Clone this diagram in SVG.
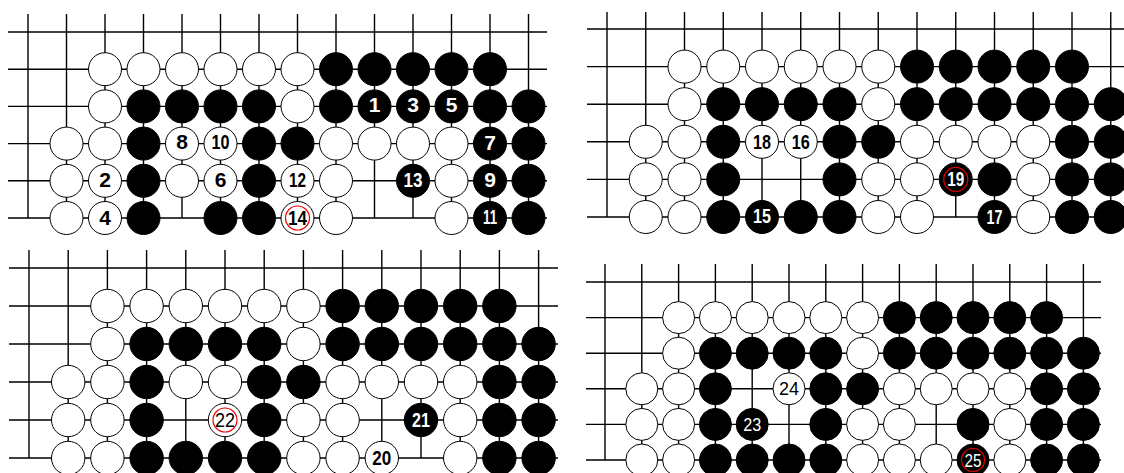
<svg xmlns="http://www.w3.org/2000/svg" width="1124" height="473" viewBox="0 0 1124 473">
<style>
.grid{fill:none;stroke:#000;stroke-width:1.4}
.w{fill:#fff;stroke:#000;stroke-width:1}
.b{fill:#000;stroke:#000;stroke-width:1}
.mk{fill:none;stroke:#e00;stroke-width:1.2}
text{font-family:"Liberation Sans",Arial,sans-serif;font-weight:bold;text-anchor:middle}
.tw{fill:#000}
.tb{fill:#fff}
.s1{font-size:21px}
.s2{font-size:20px}
.s3{font-size:18.5px}
.n{font-weight:normal}
</style>
<rect width="1124" height="473" fill="#fff"/>

<g id="panel1">
<g id="grid1"><path class="grid" d="M8 32H547M8 69.2H547M8 106.4H547M8 143.6H547M8 180.8H547M8 218H547M28 14V218M66.5 14V218M105 14V218M143.5 14V218M182 14V218M220.5 14V218M259 14V218M297.5 14V218M336 14V218M374.5 14V218M413 14V218M451.5 14V218M490 14V218M528.5 14V218"/></g>
<g id="stones1">
<circle class="w" cx="105" cy="69.2" r="16.5"/><circle class="w" cx="143.5" cy="69.2" r="16.5"/><circle class="w" cx="182" cy="69.2" r="16.5"/><circle class="w" cx="220.5" cy="69.2" r="16.5"/><circle class="w" cx="259" cy="69.2" r="16.5"/><circle class="w" cx="297.5" cy="69.2" r="16.5"/>
<circle class="b" cx="336" cy="69.2" r="16.5"/><circle class="b" cx="374.5" cy="69.2" r="16.5"/><circle class="b" cx="413" cy="69.2" r="16.5"/><circle class="b" cx="451.5" cy="69.2" r="16.5"/><circle class="b" cx="490" cy="69.2" r="16.5"/>
<circle class="w" cx="105" cy="106.4" r="16.5"/><circle class="b" cx="143.5" cy="106.4" r="16.5"/><circle class="b" cx="182" cy="106.4" r="16.5"/><circle class="b" cx="220.5" cy="106.4" r="16.5"/><circle class="b" cx="259" cy="106.4" r="16.5"/><circle class="w" cx="297.5" cy="106.4" r="16.5"/>
<circle class="b" cx="336" cy="106.4" r="16.5"/><circle class="b" cx="374.5" cy="106.4" r="16.5"/><circle class="b" cx="413" cy="106.4" r="16.5"/><circle class="b" cx="451.5" cy="106.4" r="16.5"/><circle class="b" cx="490" cy="106.4" r="16.5"/><circle class="b" cx="528.5" cy="106.4" r="16.5"/>
<circle class="w" cx="66.5" cy="143.6" r="16.5"/><circle class="w" cx="105" cy="143.6" r="16.5"/><circle class="b" cx="143.5" cy="143.6" r="16.5"/><circle class="w" cx="182" cy="143.6" r="16.5"/><circle class="w" cx="220.5" cy="143.6" r="16.5"/><circle class="b" cx="259" cy="143.6" r="16.5"/><circle class="b" cx="297.5" cy="143.6" r="16.5"/>
<circle class="w" cx="336" cy="143.6" r="16.5"/><circle class="w" cx="374.5" cy="143.6" r="16.5"/><circle class="w" cx="413" cy="143.6" r="16.5"/><circle class="w" cx="451.5" cy="143.6" r="16.5"/><circle class="b" cx="490" cy="143.6" r="16.5"/><circle class="b" cx="528.5" cy="143.6" r="16.5"/>
<circle class="w" cx="66.5" cy="180.8" r="16.5"/><circle class="w" cx="105" cy="180.8" r="16.5"/><circle class="b" cx="143.5" cy="180.8" r="16.5"/><circle class="w" cx="182" cy="180.8" r="16.5"/><circle class="w" cx="220.5" cy="180.8" r="16.5"/><circle class="b" cx="259" cy="180.8" r="16.5"/><circle class="w" cx="297.5" cy="180.8" r="16.5"/>
<circle class="w" cx="336" cy="180.8" r="16.5"/><circle class="b" cx="413" cy="180.8" r="16.5"/><circle class="w" cx="451.5" cy="180.8" r="16.5"/><circle class="b" cx="490" cy="180.8" r="16.5"/><circle class="b" cx="528.5" cy="180.8" r="16.5"/>
<circle class="w" cx="66.5" cy="218" r="16.5"/><circle class="w" cx="105" cy="218" r="16.5"/><circle class="b" cx="143.5" cy="218" r="16.5"/><circle class="b" cx="220.5" cy="218" r="16.5"/><circle class="b" cx="259" cy="218" r="16.5"/><circle class="w" cx="297.5" cy="218" r="16.5"/>
<circle class="w" cx="336" cy="218" r="16.5"/><circle class="w" cx="451.5" cy="218" r="16.5"/><circle class="b" cx="490" cy="218" r="16.5"/><circle class="b" cx="528.5" cy="218" r="16.5"/>
<circle class="mk" cx="297.5" cy="218" r="12"/>
</g>
<g id="labels1">
<text class="tb s1" x="374.5" y="112.4">1</text><text class="tb s1" x="413" y="112.4">3</text><text class="tb s1" x="451.5" y="112.4">5</text>
<text class="tw s1" x="182" y="149">8</text><text class="tw s2" x="220.5" y="148.6" font-size="17" textLength="18" lengthAdjust="spacingAndGlyphs">10</text><text class="tb s1" x="490" y="150">7</text>
<text class="tw s1" x="105" y="187">2</text><text class="tw s1" x="220.5" y="187">6</text><text class="tw s2" x="297.5" y="186.5" textLength="17" lengthAdjust="spacingAndGlyphs">12</text><text class="tb s2" x="413" y="187" textLength="19" lengthAdjust="spacingAndGlyphs">13</text><text class="tb s1" x="490" y="187">9</text>
<text class="tw s1" x="105" y="224.5">4</text><text class="tw s2" x="297.5" y="224.5" textLength="19" lengthAdjust="spacingAndGlyphs">14</text><text class="tb s2" x="490" y="224" textLength="14" lengthAdjust="spacingAndGlyphs">11</text>
</g>
</g>

<g id="panel2">
<g id="grid2"><path class="grid" d="M587 29H1124M587 66.6H1124M587 104.2H1124M587 141.8H1124M587 179.4H1124M587 217H1124M607 12V217M645.75 12V217M684.5 12V217M723.25 12V217M762 12V217M800.75 12V217M839.5 12V217M878.25 12V217M917 12V217M955.75 12V217M994.5 12V217M1033.25 12V217M1072 12V217M1110.75 12V217"/></g>
<g id="stones2">
<circle class="w" cx="684.5" cy="66.6" r="16.5"/><circle class="w" cx="723.25" cy="66.6" r="16.5"/><circle class="w" cx="762" cy="66.6" r="16.5"/><circle class="w" cx="800.75" cy="66.6" r="16.5"/><circle class="w" cx="839.5" cy="66.6" r="16.5"/><circle class="w" cx="878.25" cy="66.6" r="16.5"/>
<circle class="b" cx="917" cy="66.6" r="16.5"/><circle class="b" cx="955.75" cy="66.6" r="16.5"/><circle class="b" cx="994.5" cy="66.6" r="16.5"/><circle class="b" cx="1033.25" cy="66.6" r="16.5"/><circle class="b" cx="1072" cy="66.6" r="16.5"/>
<circle class="w" cx="684.5" cy="104.2" r="16.5"/><circle class="b" cx="723.25" cy="104.2" r="16.5"/><circle class="b" cx="762" cy="104.2" r="16.5"/><circle class="b" cx="800.75" cy="104.2" r="16.5"/><circle class="b" cx="839.5" cy="104.2" r="16.5"/><circle class="w" cx="878.25" cy="104.2" r="16.5"/>
<circle class="b" cx="917" cy="104.2" r="16.5"/><circle class="b" cx="955.75" cy="104.2" r="16.5"/><circle class="b" cx="994.5" cy="104.2" r="16.5"/><circle class="b" cx="1033.25" cy="104.2" r="16.5"/><circle class="b" cx="1072" cy="104.2" r="16.5"/><circle class="b" cx="1110.75" cy="104.2" r="16.5"/>
<circle class="w" cx="645.75" cy="141.8" r="16.5"/><circle class="w" cx="684.5" cy="141.8" r="16.5"/><circle class="b" cx="723.25" cy="141.8" r="16.5"/><circle class="w" cx="762" cy="141.8" r="16.5"/><circle class="w" cx="800.75" cy="141.8" r="16.5"/><circle class="b" cx="839.5" cy="141.8" r="16.5"/><circle class="b" cx="878.25" cy="141.8" r="16.5"/>
<circle class="w" cx="917" cy="141.8" r="16.5"/><circle class="w" cx="955.75" cy="141.8" r="16.5"/><circle class="w" cx="994.5" cy="141.8" r="16.5"/><circle class="w" cx="1033.25" cy="141.8" r="16.5"/><circle class="b" cx="1072" cy="141.8" r="16.5"/><circle class="b" cx="1110.75" cy="141.8" r="16.5"/>
<circle class="w" cx="645.75" cy="179.4" r="16.5"/><circle class="w" cx="684.5" cy="179.4" r="16.5"/><circle class="b" cx="723.25" cy="179.4" r="16.5"/><circle class="b" cx="839.5" cy="179.4" r="16.5"/><circle class="w" cx="878.25" cy="179.4" r="16.5"/>
<circle class="w" cx="917" cy="179.4" r="16.5"/><circle class="b" cx="955.75" cy="179.4" r="16.5"/><circle class="b" cx="994.5" cy="179.4" r="16.5"/><circle class="w" cx="1033.25" cy="179.4" r="16.5"/><circle class="b" cx="1072" cy="179.4" r="16.5"/><circle class="b" cx="1110.75" cy="179.4" r="16.5"/>
<circle class="w" cx="645.75" cy="217" r="16.5"/><circle class="w" cx="684.5" cy="217" r="16.5"/><circle class="b" cx="723.25" cy="217" r="16.5"/><circle class="b" cx="762" cy="217" r="16.5"/><circle class="b" cx="800.75" cy="217" r="16.5"/><circle class="b" cx="839.5" cy="217" r="16.5"/><circle class="w" cx="878.25" cy="217" r="16.5"/>
<circle class="w" cx="917" cy="217" r="16.5"/><circle class="b" cx="994.5" cy="217" r="16.5"/><circle class="w" cx="1033.25" cy="217" r="16.5"/><circle class="b" cx="1072" cy="217" r="16.5"/><circle class="b" cx="1110.75" cy="217" r="16.5"/>
<circle class="mk" cx="955.75" cy="179.4" r="12"/>
</g>
<g id="labels2">
<text class="tw s2" x="762" y="148.5" textLength="18" lengthAdjust="spacingAndGlyphs">18</text><text class="tw s2" x="800.75" y="148.5" textLength="18" lengthAdjust="spacingAndGlyphs">16</text>
<text class="tb s2" x="955.75" y="186" textLength="17" lengthAdjust="spacingAndGlyphs">19</text>
<text class="tb s2" x="762" y="223" font-size="18" textLength="18" lengthAdjust="spacingAndGlyphs">15</text><text class="tb s2" x="994.5" y="223.5" textLength="16" lengthAdjust="spacingAndGlyphs">17</text>
</g>
</g>

<g id="panel3">
<g id="grid3"><path class="grid" d="M9 268H558M9 306H558M9 344H558M9 382H558M9 420H558M9 458H558M29 250V458M68.2 250V458M107.4 250V458M146.6 250V458M185.8 250V458M225 250V458M264.2 250V458M303.4 250V458M342.6 250V458M381.8 250V458M421 250V458M460.2 250V458M499.4 250V458M538.6 250V458"/></g>
<g id="stones3">
<circle class="w" cx="107.4" cy="306" r="16.7"/><circle class="w" cx="146.6" cy="306" r="16.7"/><circle class="w" cx="185.8" cy="306" r="16.7"/><circle class="w" cx="225" cy="306" r="16.7"/><circle class="w" cx="264.2" cy="306" r="16.7"/><circle class="w" cx="303.4" cy="306" r="16.7"/>
<circle class="b" cx="342.6" cy="306" r="16.7"/><circle class="b" cx="381.8" cy="306" r="16.7"/><circle class="b" cx="421" cy="306" r="16.7"/><circle class="b" cx="460.2" cy="306" r="16.7"/><circle class="b" cx="499.4" cy="306" r="16.7"/>
<circle class="w" cx="107.4" cy="344" r="16.7"/><circle class="b" cx="146.6" cy="344" r="16.7"/><circle class="b" cx="185.8" cy="344" r="16.7"/><circle class="b" cx="225" cy="344" r="16.7"/><circle class="b" cx="264.2" cy="344" r="16.7"/><circle class="w" cx="303.4" cy="344" r="16.7"/>
<circle class="b" cx="342.6" cy="344" r="16.7"/><circle class="b" cx="381.8" cy="344" r="16.7"/><circle class="b" cx="421" cy="344" r="16.7"/><circle class="b" cx="460.2" cy="344" r="16.7"/><circle class="b" cx="499.4" cy="344" r="16.7"/><circle class="b" cx="538.6" cy="344" r="16.7"/>
<circle class="w" cx="68.2" cy="382" r="16.7"/><circle class="w" cx="107.4" cy="382" r="16.7"/><circle class="b" cx="146.6" cy="382" r="16.7"/><circle class="w" cx="185.8" cy="382" r="16.7"/><circle class="w" cx="225" cy="382" r="16.7"/><circle class="b" cx="264.2" cy="382" r="16.7"/><circle class="b" cx="303.4" cy="382" r="16.7"/>
<circle class="w" cx="342.6" cy="382" r="16.7"/><circle class="w" cx="381.8" cy="382" r="16.7"/><circle class="w" cx="421" cy="382" r="16.7"/><circle class="w" cx="460.2" cy="382" r="16.7"/><circle class="b" cx="499.4" cy="382" r="16.7"/><circle class="b" cx="538.6" cy="382" r="16.7"/>
<circle class="w" cx="68.2" cy="420" r="16.7"/><circle class="w" cx="107.4" cy="420" r="16.7"/><circle class="b" cx="146.6" cy="420" r="16.7"/><circle class="w" cx="225" cy="420" r="16.7"/><circle class="b" cx="264.2" cy="420" r="16.7"/><circle class="w" cx="303.4" cy="420" r="16.7"/>
<circle class="w" cx="342.6" cy="420" r="16.7"/><circle class="b" cx="421" cy="420" r="16.7"/><circle class="w" cx="460.2" cy="420" r="16.7"/><circle class="b" cx="499.4" cy="420" r="16.7"/><circle class="b" cx="538.6" cy="420" r="16.7"/>
<circle class="w" cx="68.2" cy="458" r="16.7"/><circle class="w" cx="107.4" cy="458" r="16.7"/><circle class="b" cx="146.6" cy="458" r="16.7"/><circle class="b" cx="185.8" cy="458" r="16.7"/><circle class="b" cx="225" cy="458" r="16.7"/><circle class="b" cx="264.2" cy="458" r="16.7"/><circle class="w" cx="303.4" cy="458" r="16.7"/>
<circle class="w" cx="342.6" cy="458" r="16.7"/><circle class="w" cx="381.8" cy="458" r="16.7"/><circle class="w" cx="460.2" cy="458" r="16.7"/><circle class="b" cx="499.4" cy="458" r="16.7"/><circle class="b" cx="538.6" cy="458" r="16.7"/>
<circle class="mk" cx="225" cy="420" r="12"/>
</g>
<g id="labels3">
<text class="tw s2 n" x="225" y="427" textLength="20" lengthAdjust="spacingAndGlyphs">22</text><text class="tb s2" x="421" y="427" textLength="18" lengthAdjust="spacingAndGlyphs">21</text><text class="tw s2" x="381.8" y="465" textLength="19" lengthAdjust="spacingAndGlyphs">20</text>
</g>
</g>

<g id="panel4">
<g id="grid4"><path class="grid" d="M586 282H1101M586 317.6H1101M586 353.2H1101M586 388.8H1101M586 424.4H1101M586 460H1101M605 264V460M641.8 264V460M678.6 264V460M715.4 264V460M752.2 264V460M789 264V460M825.8 264V460M862.6 264V460M899.4 264V460M936.2 264V460M973 264V460M1009.8 264V460M1046.6 264V460M1083.4 264V460"/></g>
<g id="stones4">
<circle class="w" cx="678.6" cy="317.6" r="16"/><circle class="w" cx="715.4" cy="317.6" r="16"/><circle class="w" cx="752.2" cy="317.6" r="16"/><circle class="w" cx="789" cy="317.6" r="16"/><circle class="w" cx="825.8" cy="317.6" r="16"/><circle class="w" cx="862.6" cy="317.6" r="16"/>
<circle class="b" cx="899.4" cy="317.6" r="16"/><circle class="b" cx="936.2" cy="317.6" r="16"/><circle class="b" cx="973" cy="317.6" r="16"/><circle class="b" cx="1009.8" cy="317.6" r="16"/><circle class="b" cx="1046.6" cy="317.6" r="16"/>
<circle class="w" cx="678.6" cy="353.2" r="16"/><circle class="b" cx="715.4" cy="353.2" r="16"/><circle class="b" cx="752.2" cy="353.2" r="16"/><circle class="b" cx="789" cy="353.2" r="16"/><circle class="b" cx="825.8" cy="353.2" r="16"/><circle class="w" cx="862.6" cy="353.2" r="16"/>
<circle class="b" cx="899.4" cy="353.2" r="16"/><circle class="b" cx="936.2" cy="353.2" r="16"/><circle class="b" cx="973" cy="353.2" r="16"/><circle class="b" cx="1009.8" cy="353.2" r="16"/><circle class="b" cx="1046.6" cy="353.2" r="16"/><circle class="b" cx="1083.4" cy="353.2" r="16"/>
<circle class="w" cx="641.8" cy="388.8" r="16"/><circle class="w" cx="678.6" cy="388.8" r="16"/><circle class="b" cx="715.4" cy="388.8" r="16"/><circle class="w" cx="789" cy="388.8" r="16"/><circle class="b" cx="825.8" cy="388.8" r="16"/><circle class="b" cx="862.6" cy="388.8" r="16"/>
<circle class="w" cx="899.4" cy="388.8" r="16"/><circle class="w" cx="936.2" cy="388.8" r="16"/><circle class="w" cx="973" cy="388.8" r="16"/><circle class="w" cx="1009.8" cy="388.8" r="16"/><circle class="b" cx="1046.6" cy="388.8" r="16"/><circle class="b" cx="1083.4" cy="388.8" r="16"/>
<circle class="w" cx="641.8" cy="424.4" r="16"/><circle class="w" cx="678.6" cy="424.4" r="16"/><circle class="b" cx="715.4" cy="424.4" r="16"/><circle class="b" cx="752.2" cy="424.4" r="16"/><circle class="b" cx="825.8" cy="424.4" r="16"/><circle class="w" cx="862.6" cy="424.4" r="16"/>
<circle class="w" cx="899.4" cy="424.4" r="16"/><circle class="b" cx="973" cy="424.4" r="16"/><circle class="w" cx="1009.8" cy="424.4" r="16"/><circle class="b" cx="1046.6" cy="424.4" r="16"/><circle class="b" cx="1083.4" cy="424.4" r="16"/>
<circle class="w" cx="641.8" cy="460" r="16"/><circle class="w" cx="678.6" cy="460" r="16"/><circle class="b" cx="715.4" cy="460" r="16"/><circle class="b" cx="752.2" cy="460" r="16"/><circle class="b" cx="789" cy="460" r="16"/><circle class="b" cx="825.8" cy="460" r="16"/><circle class="w" cx="862.6" cy="460" r="16"/>
<circle class="w" cx="899.4" cy="460" r="16"/><circle class="w" cx="936.2" cy="460" r="16"/><circle class="b" cx="973" cy="460" r="16"/><circle class="w" cx="1009.8" cy="460" r="16"/><circle class="b" cx="1046.6" cy="460" r="16"/><circle class="b" cx="1083.4" cy="460" r="16"/>
<circle class="mk" cx="973" cy="460" r="11.5"/>
</g>
<g id="labels4">
<text class="tw s3 n" x="789" y="395.2" textLength="20" lengthAdjust="spacingAndGlyphs">24</text><text class="tb s3 n" x="752.2" y="430.8" textLength="18" lengthAdjust="spacingAndGlyphs">23</text><text class="tb s3 n" x="973" y="466.5" textLength="17" lengthAdjust="spacingAndGlyphs">25</text>
</g>
</g>
</svg>
